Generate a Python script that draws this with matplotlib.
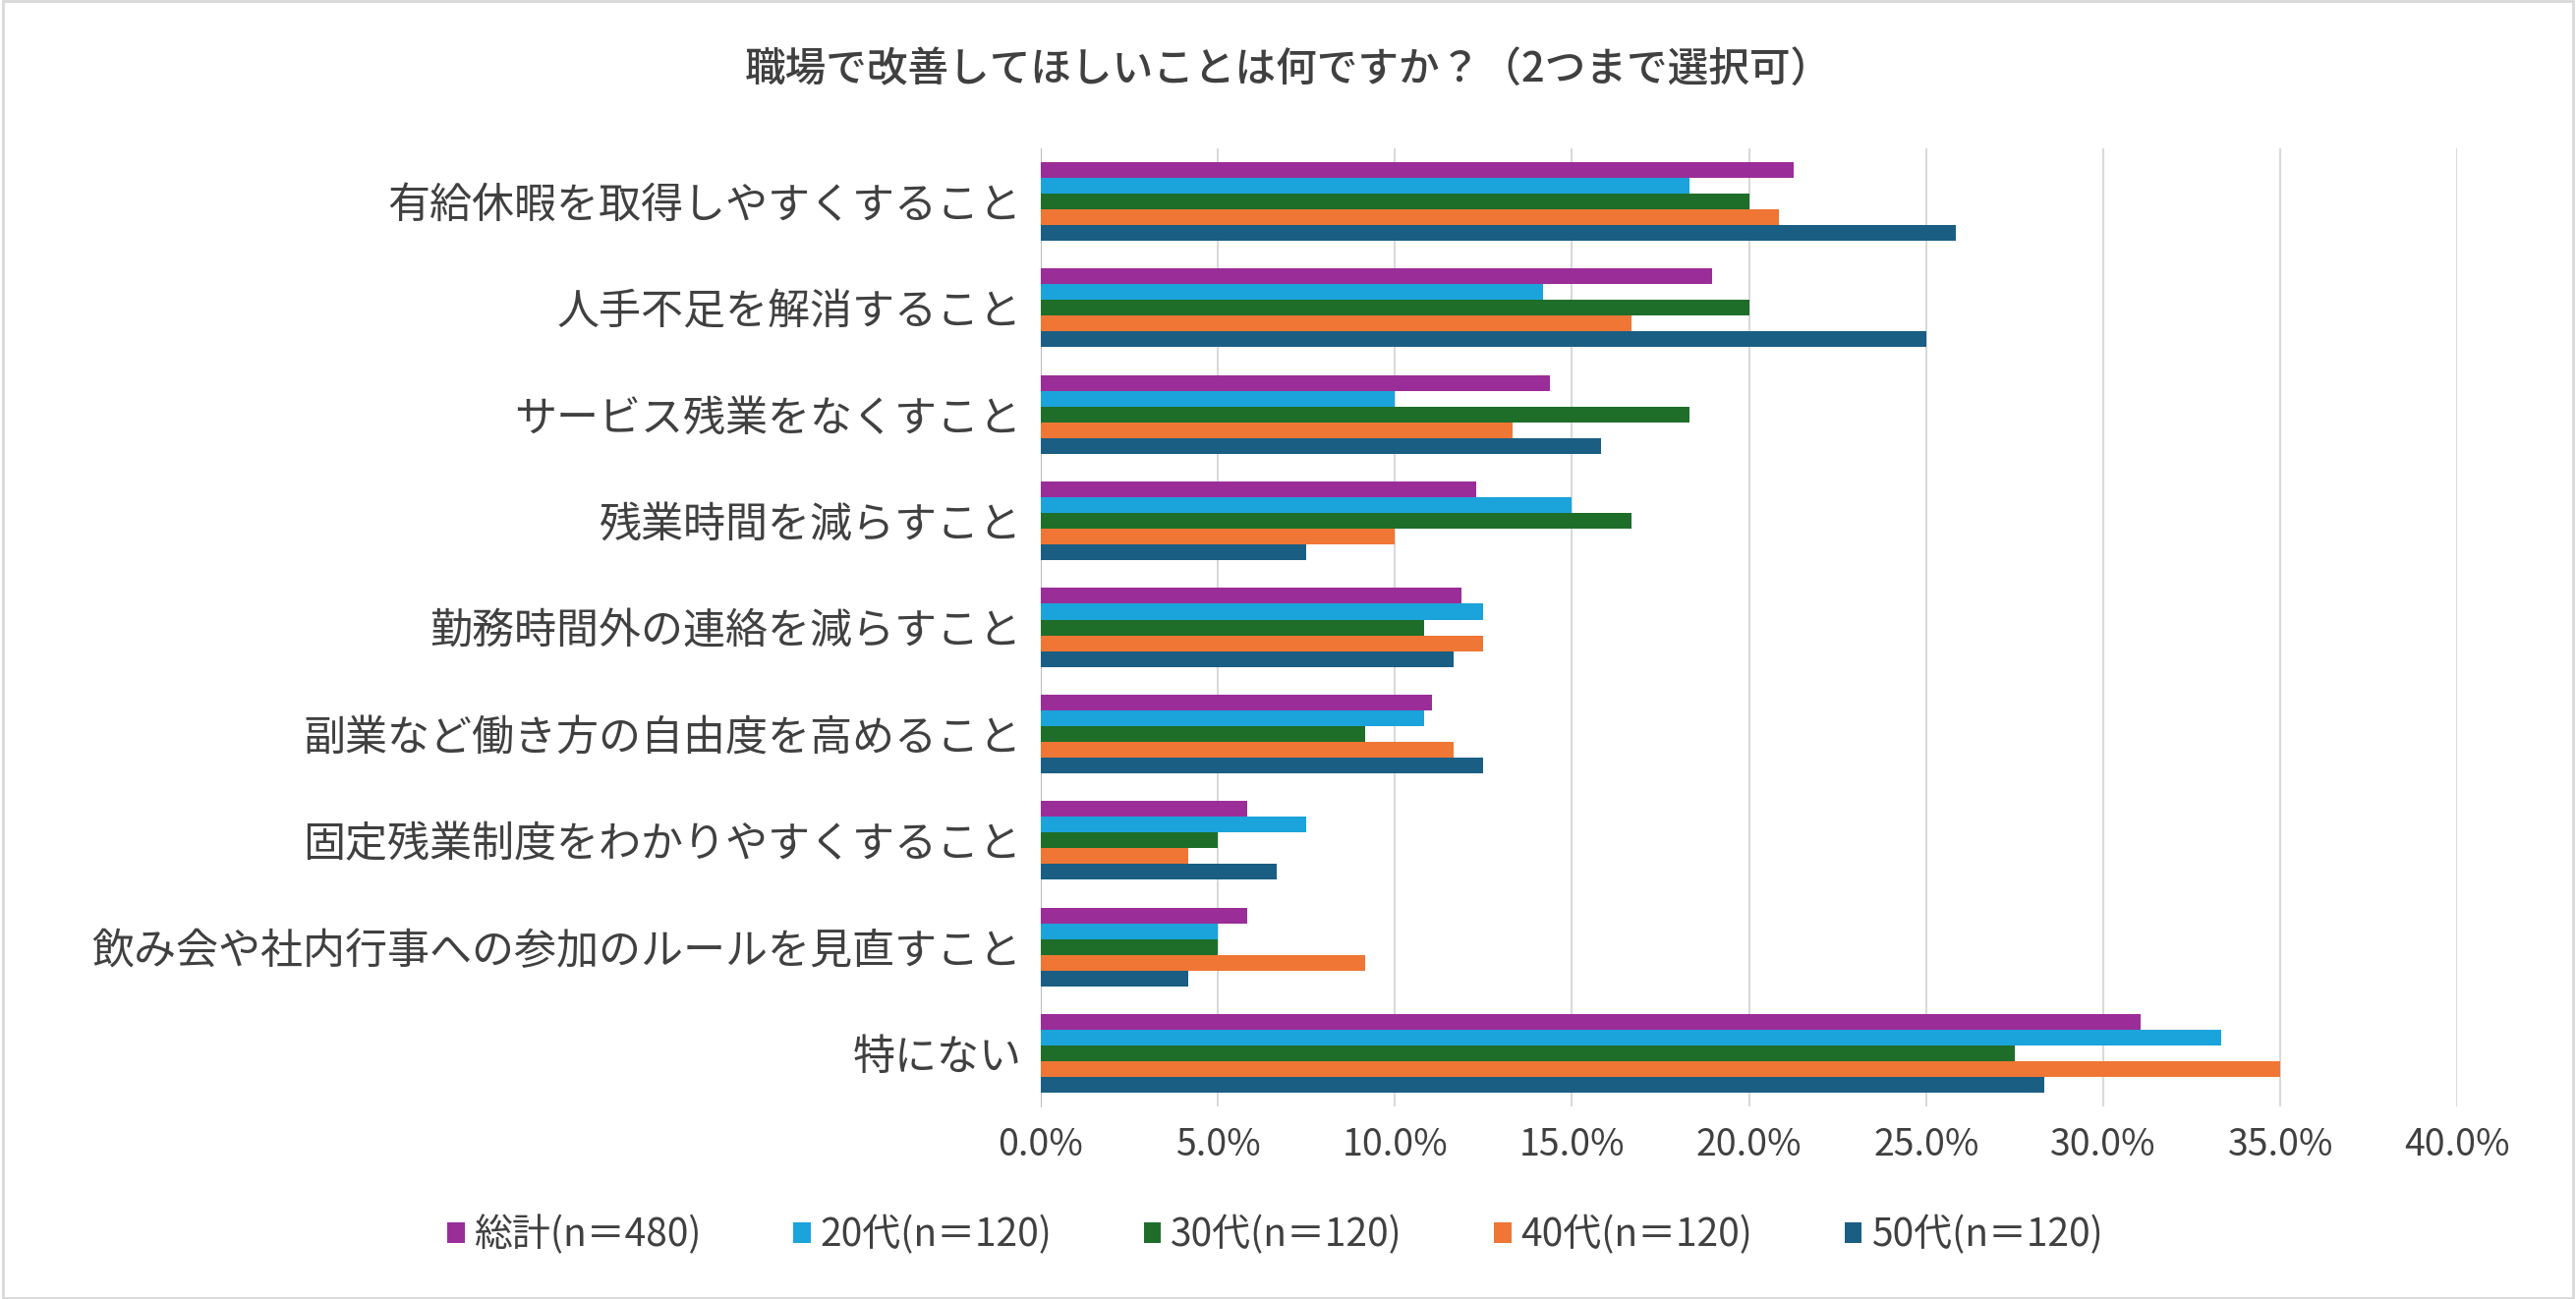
import matplotlib.pyplot as plt
import numpy as np
from matplotlib.ticker import FuncFormatter

plt.rcParams['font.family'] = ['Noto Sans CJK JP', 'DejaVu Sans']

categories = ['有給休暇を取得しやすくすること', '人手不足を解消すること', 'サービス残業をなくすこと',
              '残業時間を減らすこと', '勤務時間外の連絡を減らすこと', '副業など働き方の自由度を高めること',
              '固定残業制度をわかりやすくすること', '飲み会や社内行事への参加のルールを見直すこと', '特にない']
series = ['総計(n＝480)', '20代(n＝120)', '30代(n＝120)', '40代(n＝120)', '50代(n＝120)']
total = [21.25, 18.96, 14.38, 12.29, 11.88, 11.04, 5.83, 5.83, 31.04]
age20 = [18.33, 14.17, 10.0, 15.0, 12.5, 10.83, 7.5, 5.0, 33.33]
age30 = [20.0, 20.0, 18.33, 16.67, 10.83, 9.17, 5.0, 5.0, 27.5]
age40 = [20.83, 16.67, 13.33, 10.0, 12.5, 11.67, 4.17, 9.17, 35.0]
age50 = [25.83, 25.0, 15.83, 7.5, 11.67, 12.5, 6.67, 4.17, 28.33]
values = [total, age20, age30, age40, age50]
colors = ['#9B2D98', '#1BA3DB', '#1E6E2A', '#EF7634', '#1A5E84']

fig = plt.figure(figsize=(26.21, 13.22), dpi=100)
ax = fig.add_axes([0.404, 0.148, 0.55, 0.738])
y = np.arange(len(categories))
h = 0.148
for i, (vals, c, name) in enumerate(zip(values, colors, series)):
    ax.barh(y - 2 * h + i * h, vals, height=h, color=c, label=name, zorder=3)

ax.set_ylim(len(categories) - 0.5, -0.5)
ax.set_xlim(0, 40)
ax.set_xticks(np.arange(0, 41, 5))
ax.xaxis.set_major_formatter(FuncFormatter(lambda v, p: f'{v:.1f}%'))
ax.set_yticks(y)
ax.set_yticklabels(categories, fontsize=31, color='#404040')
ax.tick_params(axis='x', labelsize=27, colors='#404040', length=0, pad=14)
ax.tick_params(axis='y', length=0, pad=14)
ax.grid(axis='x', color='#D9D9D9', lw=1.5, zorder=0)
for s in ['top', 'right', 'bottom']:
    ax.spines[s].set_visible(False)
ax.spines['left'].set_color('#BFBFBF')

fig.text(0.5, 0.947, '職場で改善してほしいことは何ですか？（2つまで選択可）', ha='center', va='center',
         fontsize=30, color='#404040', fontweight='medium')
fig.legend(loc='center', bbox_to_anchor=(0.495, 0.049), ncol=5, frameon=False, fontsize=28,
           handlelength=0.45, handleheight=0.45, handletextpad=0.25, columnspacing=2.4,
           labelcolor='#404040')
fig.patches.append(plt.Rectangle((0.001, 0.001), 0.998, 0.998, transform=fig.transFigure,
                                 fill=False, edgecolor='#D9D9D9', lw=2))
fig.savefig('out.png')
plt.close(fig)
